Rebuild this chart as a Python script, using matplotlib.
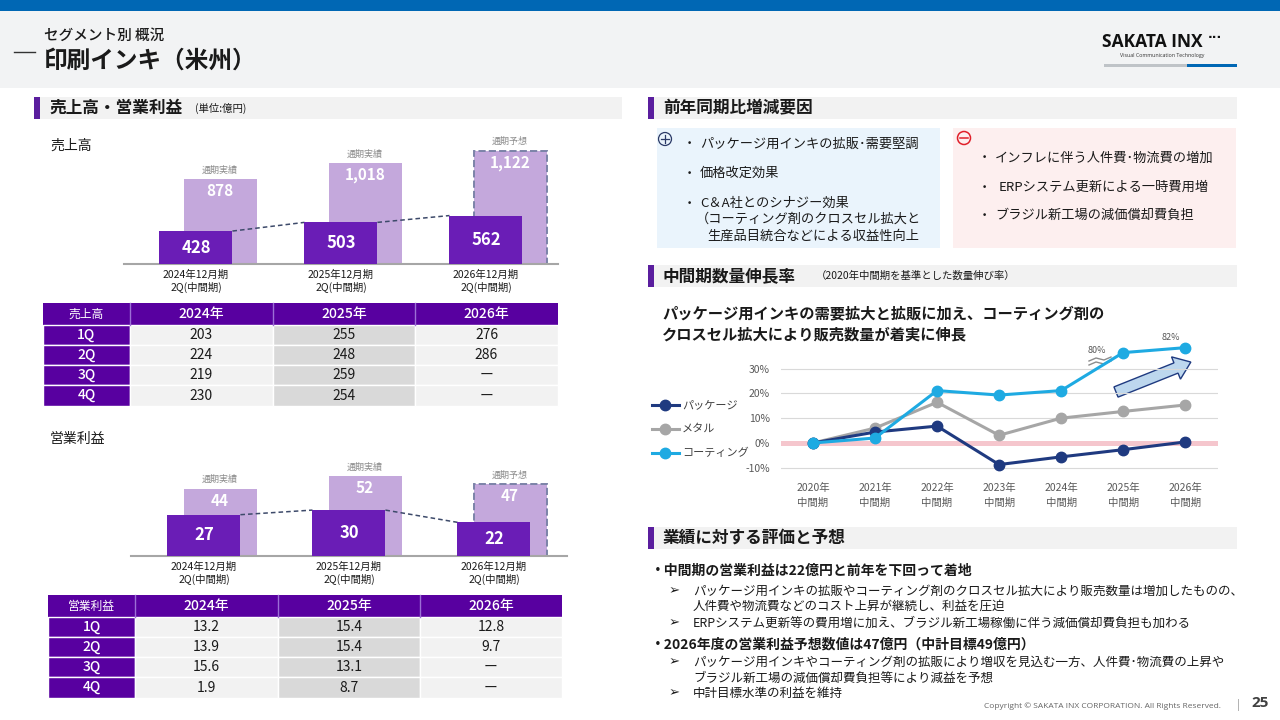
import numpy as np
import matplotlib
matplotlib.use("Agg")
import matplotlib.pyplot as plt
from matplotlib.patches import Rectangle, Circle, FancyArrow

plt.rcParams['font.family'] = ['Noto Sans CJK JP', 'DejaVu Sans']

# ---------------- data ----------------
periods = ['2024年12月期\n2Q(中間期)', '2025年12月期\n2Q(中間期)', '2026年12月期\n2Q(中間期)']
full_tags = ['通期実績', '通期実績', '通期予想']
sales_half = [428, 503, 562]
sales_full = [878, 1018, 1122]
profit_half = [27, 30, 22]
profit_full = [44, 52, 47]

table_years = ['2024年', '2025年', '2026年']
quarters = ['1Q', '2Q', '3Q', '4Q']
sales_table = [['203', '255', '276'],
               ['224', '248', '286'],
               ['219', '259', 'ー'],
               ['230', '254', 'ー']]
profit_table = [['13.2', '15.4', '12.8'],
                ['13.9', '15.4', '9.7'],
                ['15.6', '13.1', 'ー'],
                ['1.9', '8.7', 'ー']]

line_years = ['2020年\n中間期', '2021年\n中間期', '2022年\n中間期', '2023年\n中間期',
              '2024年\n中間期', '2025年\n中間期', '2026年\n中間期']
series_names = ['パッケージ', 'メタル', 'コーティング']
package = [0, 4.4, 6.8, -8.7, -5.6, -2.7, 0.4]
metal = [0, 6.0, 16.4, 3.1, 10.0, 12.7, 15.3]
coating = [0, 2.0, 21.1, 19.3, 21.1, 80, 82]
y_ticks = [-10, 0, 10, 20, 30]

# ---------------- colours ----------------
LIGHT = '#C4A8DC'
DARK = '#6A1DB6'
TPURP = '#5800A0'
NAVY = '#1F3A80'
GRAY = '#A6A6A6'
CYAN = '#1EAAE2'
TXT = '#1A1A1A'

W, H = 1280, 720
fig = plt.figure(figsize=(12.8, 7.2), dpi=100)
bg = fig.add_axes([0, 0, 1, 1], zorder=0)
bg.set_xlim(0, W)
bg.set_ylim(H, 0)
bg.axis('off')


def P(px):
    return px * 0.72


def T(x, y, s, size, color=TXT, ha='left', va='center', weight='normal', **kw):
    bg.text(x, y, s, fontsize=size, color=color, ha=ha, va=va, fontweight=weight, **kw)


def R(x0, y0, x1, y1, fc, ec='none', lw=0, z=1, **kw):
    bg.add_patch(Rectangle((x0, y0), x1 - x0, y1 - y0, facecolor=fc, edgecolor=ec, linewidth=lw, zorder=z, **kw))


def ax_px(l, t, r, b):
    return fig.add_axes([l / W, 1 - b / H, (r - l) / W, (b - t) / H], zorder=2)


LAT = ['Open Sans', 'DejaVu Sans']

# ---------------- header ----------------
R(0, 0, W, 11, '#0067B4')
R(0, 11, W, 88, '#F2F3F4')
bg.plot([14, 35], [52, 52], color='#333333', lw=1)
T(44, 36, 'セグメント別 概況', 10.5, weight='medium')
T(44, 61, '印刷インキ（米州）', 17, weight='bold')
T(1102, 42, 'SAKATA INX', 12.5, weight='bold', family=LAT, color='#111111')
T(1208, 38, '···', 9, weight='bold', family=['DejaVu Sans'], color='#111111')
T(1120, 56, 'Visual Communication Technology', 3.8, family=LAT, color='#333333')
R(1104, 64, 1187, 67, '#BFC3C7')
R(1187, 64, 1237, 67, '#0067B4')


def section(x0, x1, y, title, sub=None, subx=None):
    R(x0, y - 11, x1, y + 11, '#F2F2F2')
    R(x0 - 4, y - 11, x0 + 2, y + 11, '#5A1E9E')
    T(x0 + 11, y, title, 12, weight='bold')
    if sub:
        T(subx, y, sub, 7.5)


section(38, 622, 108, '売上高・営業利益', '(単位:億円)', 195)
section(652, 1237, 108, '前年同期比増減要因')
section(652, 1237, 276, '中間期数量伸長率', '（2020年中間期を基準とした数量伸び率）', 816)
section(652, 1237, 538, '業績に対する評価と予想')

T(50, 146, '売上高', 10)
T(50, 439, '営業利益', 10)


# ---------------- bar charts ----------------
def bar_chart(ax, half, full, ylo, yhi, xlim, d_off, l_off):
    w = 0.503
    x = np.arange(len(half))
    ax.set_xlim(*xlim)
    ax.set_ylim(ylo, yhi)
    for i in range(len(half)):
        last = i == len(half) - 1
        ax.bar(x[i] + l_off, full[i] - ylo, bottom=ylo, width=w, color=LIGHT,
               edgecolor='#7C83A8' if last else 'none', linestyle='--' if last else '-',
               linewidth=1.4 if last else 0, zorder=2)
        ax.bar(x[i] + d_off, half[i] - ylo, bottom=ylo, width=w, color=DARK, zorder=4)
        ax.annotate(f'{full[i]:,}', (x[i] + l_off, full[i]), xytext=(0, -P(12)), textcoords='offset points',
                    ha='center', va='center', color='white', fontsize=11, fontweight='bold')
        ax.annotate(full_tags[i], (x[i] + l_off, full[i]), xytext=(0, P(9)), textcoords='offset points',
                    ha='center', va='center', color='#8C8C8C', fontsize=6.5)
        ax.text(x[i] + d_off, (ylo + half[i]) / 2, f'{half[i]:,}', ha='center', va='center',
                color='white', fontsize=12, fontweight='bold', zorder=5)
    for i in range(len(half) - 1):
        ax.plot([x[i] + d_off + w / 2, x[i + 1] + d_off - w / 2], [half[i], half[i + 1]],
                color='#3D4A6A', lw=1.1, linestyle=(0, (3, 2)), zorder=3)
    ax.set_xticks(x + d_off)
    ax.set_xticklabels(periods, fontsize=7.5, color=TXT, linespacing=1.2)
    ax.tick_params(axis='x', length=0, pad=4)
    ax.set_yticks([])
    for s in ['top', 'left', 'right']:
        ax.spines[s].set_visible(False)
    ax.spines['bottom'].set_color('#A6A6A6')
    ax.spines['bottom'].set_linewidth(1.5)
    ax.patch.set_alpha(0)


ax1 = ax_px(124, 138, 558, 264)
bar_chart(ax1, sales_half, sales_full, 143, 143 + 126 / 0.1156,
          ((124 - 208) / 145, (558 - 208) / 145), -0.083, 0.083)
ax2 = ax_px(131, 450, 567, 556)
bar_chart(ax2, profit_half, profit_full, 0, 106 / 1.53,
          ((131 - 208) / 145, (567 - 208) / 145), -0.028, 0.083)


# ---------------- tables ----------------
def table(label, rows, xs, y_head, y_rows):
    R(xs[0], y_head[0], xs[-1], y_head[1], TPURP, z=2)
    for c in range(1, len(xs) - 1):
        bg.plot([xs[c], xs[c]], y_head, color='#9C6FD6', lw=1, zorder=3)
    T((xs[0] + xs[1]) / 2, sum(y_head) / 2, label, 8.5, color='white', ha='center')
    for c, yr in enumerate(table_years):
        T((xs[c + 1] + xs[c + 2]) / 2, sum(y_head) / 2, yr, 10, color='white', ha='center', weight='medium')
    for r, q in enumerate(quarters):
        y0, y1 = y_rows[r], y_rows[r + 1]
        R(xs[0], y0, xs[1], y1, TPURP, ec='white', lw=1, z=2)
        T((xs[0] + xs[1]) / 2, (y0 + y1) / 2, q, 10, color='white', ha='center', weight='medium')
        for c in range(3):
            fc = '#D9D9D9' if c == 1 else '#F2F2F2'
            R(xs[c + 1], y0, xs[c + 2], y1, fc, ec='white', lw=1, z=2)
            T((xs[c + 1] + xs[c + 2]) / 2, (y0 + y1) / 2, rows[r][c], 10, ha='center')


table('売上高', sales_table, [43, 130, 273, 415, 558], (303, 325), [325, 345, 365, 385, 406])
table('営業利益', profit_table, [48, 135, 278, 420, 562], (595, 617), [617, 637, 657, 677, 698])

# ---------------- factor boxes ----------------
R(657, 128, 940, 248, '#EAF4FC')
R(953, 128, 1236, 248, '#FDEFEF')
bg.add_patch(Circle((665, 139), 6.5, facecolor='none', edgecolor='#2B3A67', lw=0.9, zorder=3))
bg.plot([661, 669], [139, 139], color='#2B3A67', lw=0.9, zorder=3)
bg.plot([665, 665], [135, 143], color='#2B3A67', lw=0.9, zorder=3)
bg.add_patch(Circle((964, 138), 6.5, facecolor='none', edgecolor='#E0202A', lw=1.1, zorder=3))
bg.plot([960, 968], [138, 138], color='#E0202A', lw=1.1, zorder=3)

for y, s in [(144, 'パッケージ用インキの拡販･需要堅調'), (173, '価格改定効果'), (203, 'C＆A社とのシナジー効果')]:
    T(683, y, '・', 9.5)
    T(700, y, s, 9.5)
T(696, 219, '（コーティング剤のクロスセル拡大と', 9.5)
T(707, 236, '生産品目統合などによる収益性向上', 9.5)
for y, s, x in [(158, 'インフレに伴う人件費･物流費の増加', 995), (187, 'ERPシステム更新による一時費用増', 999),
                (215, 'ブラジル新工場の減価償却費負担', 995)]:
    T(978, y, '・', 9.5)
    T(x, y, s, 9.5)

# ---------------- line chart ----------------
T(662, 313, 'パッケージ用インキの需要拡大と拡販に加え、コーティング剤の', 11, weight='bold')
T(662, 334, 'クロスセル拡大により販売数量が着実に伸長', 11, weight='bold')


def fwd(v):
    v = np.asarray(v, dtype=float)
    return np.where(v <= 33, v, np.where(v <= 78, 33 + (v - 33) * (1.4 / 45), 34.4 + (v - 78)))


def inv(d):
    d = np.asarray(d, dtype=float)
    return np.where(d <= 33, d, np.where(d <= 34.4, 33 + (d - 33) * 45 / 1.4, d - 34.4 + 78))


ax3 = ax_px(781, 335, 1218, 475)
ax3.set_yscale('function', functions=(fwd, inv))
ax3.set_ylim(-12.9, 87.1)
ax3.set_xlim(-0.516, 6.53)
xs = np.arange(len(line_years))
ax3.set_yticks(y_ticks)
ax3.set_yticklabels([f'{t}%' for t in y_ticks], fontsize=7.5, color='#595959')
ax3.set_xticks(xs)
ax3.set_xticklabels(line_years, fontsize=7.5, color='#595959', linespacing=1.55)
ax3.tick_params(length=0)
ax3.tick_params(axis='y', pad=8)
ax3.tick_params(axis='x', pad=6)
ax3.yaxis.set_minor_locator(matplotlib.ticker.NullLocator())
for t in [-10, 10, 20, 30]:
    ax3.axhline(t, color='#D9D9D9', lw=0.8, zorder=0)
ax3.axhline(0, color='#F5C6CD', lw=3.6, zorder=1)
for s in ax3.spines.values():
    s.set_visible(False)
ax3.patch.set_alpha(0)
for vals, col in [(metal, GRAY), (package, NAVY), (coating, CYAN)]:
    ax3.plot(xs, vals, color=col, lw=2.2, marker='o', markersize=7.5, zorder=3)
ax3.annotate('80%', (xs[5], coating[5]), xytext=(-P(26), P(2)), textcoords='offset points',
             ha='center', va='center', fontsize=6.5, color='#595959')
ax3.annotate('82%', (xs[6], coating[6]), xytext=(-P(14), P(10)), textcoords='offset points',
             ha='center', va='center', fontsize=6.5, color='#595959')
# axis-break mark on the coating line
for dy in (-2, 2):
    bg.plot([1089, 1096, 1104, 1111], [363 + dy, 360 + dy, 362 + dy, 359 + dy], color='#8C8C8C', lw=1, zorder=4)

# legend
for y, name, col in [(405, series_names[0], NAVY), (429, series_names[1], GRAY), (453, series_names[2], CYAN)]:
    bg.plot([652, 679], [y, y], color=col, lw=2.2, zorder=3)
    bg.plot([665], [y], marker='o', markersize=7.5, color=col, zorder=3)
    T(682, y, name, 8, color='#404040')

bg.add_patch(FancyArrow(1116, 392, 60, -24, width=11, head_width=24, head_length=16,
                        length_includes_head=False, facecolor='#BDD7EE', edgecolor='#1F3A80', lw=1, zorder=3))

# ---------------- evaluation text ----------------
ARW = ['DejaVu Sans']
T(651, 571, '・中間期の営業利益は22億円と前年を下回って着地', 10, weight='bold')
T(669, 591, '➢', 9.5, family=ARW)
T(693, 591, 'パッケージ用インキの拡販やコーティング剤のクロスセル拡大により販売数量は増加したものの、', 9)
T(693, 606, '人件費や物流費などのコスト上昇が継続し、利益を圧迫', 9)
T(669, 623, '➢', 9.5, family=ARW)
T(693, 623, 'ERPシステム更新等の費用増に加え、ブラジル新工場稼働に伴う減価償却費負担も加わる', 9)
T(651, 645, '・2026年度の営業利益予想数値は47億円（中計目標49億円）', 10, weight='bold')
T(669, 662, '➢', 9.5, family=ARW)
T(693, 662, 'パッケージ用インキやコーティング剤の拡販により増収を見込む一方、人件費･物流費の上昇や', 9)
T(693, 678, 'ブラジル新工場の減価償却費負担等により減益を予想', 9)
T(669, 693, '➢', 9.5, family=ARW)
T(693, 693, '中計目標水準の利益を維持', 9)

T(1221, 706, 'Copyright © SAKATA INX CORPORATION. All Rights Reserved.', 6, color='#666666', ha='right',
  family=LAT)
T(1238, 705, '|', 7, color='#888888', ha='center')
T(1260, 703, '25', 11, color='#404040', ha='center', weight='bold', family=LAT)

fig.savefig('out.png', dpi=100)
